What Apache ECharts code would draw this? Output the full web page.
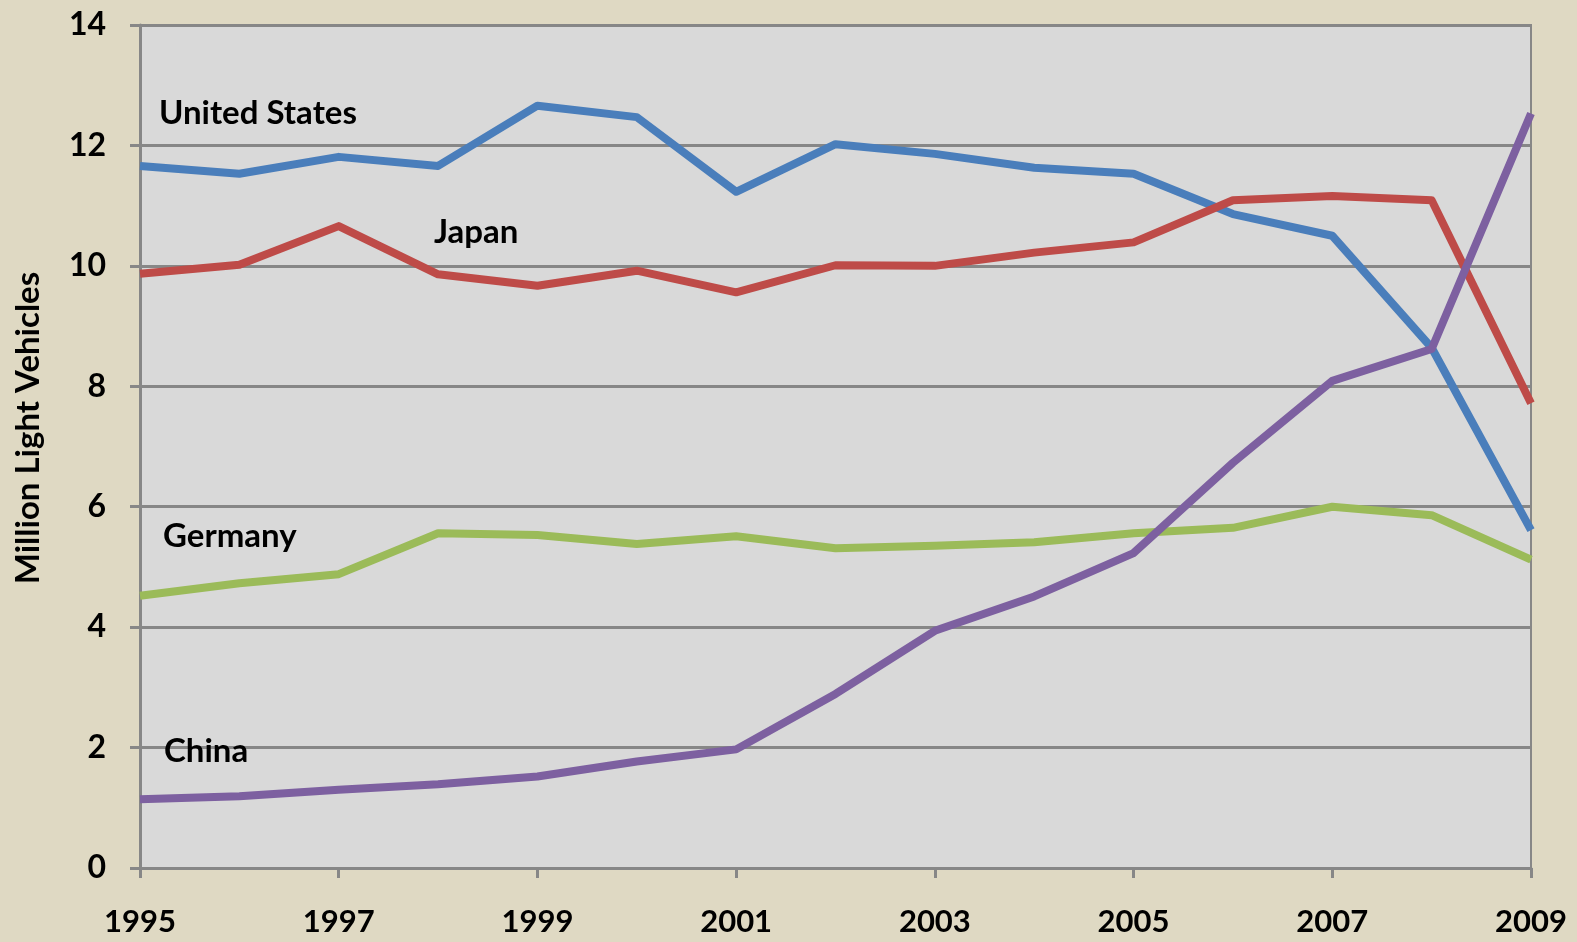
<!DOCTYPE html>
<html>
<head>
<meta charset="utf-8">
<script src="https://cdn.jsdelivr.net/npm/echarts@6/dist/echarts.min.js"></script>
<style>
html,body{margin:0;padding:0;background:#dfd9c3;}
#chart{width:1577px;height:942px;}
</style>
</head>
<body>
<div id="chart"></div>
<script>
const years = ['1995','1996','1997','1998','1999','2000','2001','2002','2003','2004','2005','2006','2007','2008','2009'];
const unitedStates = [11.66,11.53,11.81,11.66,12.66,12.47,11.23,12.02,11.86,11.63,11.53,10.86,10.50,8.64,5.61];
const japan        = [9.87,10.02,10.66,9.86,9.67,9.92,9.56,10.01,10.00,10.22,10.39,11.09,11.16,11.09,7.72];
const germany      = [4.52,4.73,4.88,5.56,5.53,5.38,5.51,5.31,5.35,5.41,5.56,5.65,6.00,5.86,5.12];
const china        = [1.14,1.19,1.30,1.39,1.52,1.77,1.97,2.89,3.94,4.51,5.23,6.73,8.09,8.62,12.53];
const yTicks = [0,2,4,6,8,10,12,14];

const FONT = 'Lato, "Open Sans", sans-serif';
const chart = echarts.init(document.getElementById('chart'));
function line(name, data, color){
  return {name, type:'line', data, symbol:'none', smooth:false,
    lineStyle:{color, width:8, cap:'butt', join:'round'}, itemStyle:{color}, z:3};
}
function lbl(text, x, y){
  return {type:'text', left:x, top:y, z:10,
    style:{text, font:'bold 33px ' + FONT, fill:'#000'}};
}
chart.setOption({
  backgroundColor:'#dfd9c3',
  animation:false,
  grid:{left:140, right:46, top:25, bottom:74, show:true, backgroundColor:'#d9d9d9', borderColor:'#878787', borderWidth:2},
  xAxis:{type:'category', data:years, boundaryGap:false,
    axisLine:{show:true, lineStyle:{color:'#878787', width:3}},
    axisTick:{show:true, interval:1, length:10, lineStyle:{color:'#878787', width:3}},
    axisLabel:{interval:1, color:'#000', fontFamily:FONT, fontWeight:'bold', fontSize:31, margin:38},
    splitLine:{show:false}},
  yAxis:{type:'value', min:0, max:14, interval:2,
    axisLine:{show:true, lineStyle:{color:'#878787', width:3}},
    axisTick:{show:true, length:10, lineStyle:{color:'#878787', width:3}},
    axisLabel:{color:'#000', fontFamily:FONT, fontWeight:'bold', fontSize:32, margin:34,
      formatter:(v)=> yTicks.includes(v) ? String(v) : ''},
    splitLine:{show:true, lineStyle:{color:'#878787', width:3}}},
  series:[
    line('United States', unitedStates, '#4a7ebb'),
    line('Japan', japan, '#be4b48'),
    line('Germany', germany, '#9bbb59'),
    line('China', china, '#7d60a0')
  ],
  graphic:[
    {type:'text', x:28, y:428, rotation:Math.PI/2, z:10,
      style:{text:'Million Light Vehicles', font:'bold 33px ' + FONT, fill:'#000', textAlign:'center', textVerticalAlign:'middle'}},
    lbl('United States', 159, 97),
    lbl('Japan', 434, 216),
    lbl('Germany', 163, 520),
    lbl('China', 164, 735)
  ]
});
</script>
</body>
</html>
